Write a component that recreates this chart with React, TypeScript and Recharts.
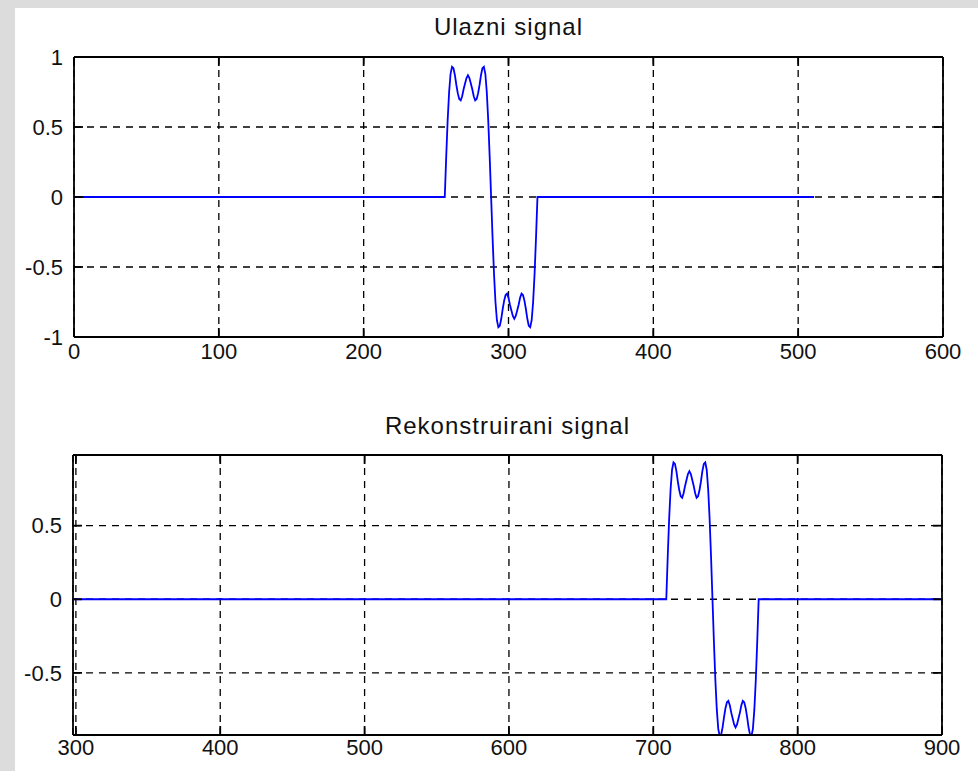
import React from 'react';
import { LineChart, Line, XAxis, YAxis, CartesianGrid } from 'recharts';

// one period of the band-limited square pulse (sample by sample)
const PULSE = [
  0, 0.29, 0.55, 0.75, 0.88, 0.93, 0.92, 0.87, 0.8, 0.74, 0.7, 0.69, 0.72, 0.77, 0.81, 0.85, 0.87,
  0.85, 0.81, 0.77, 0.72, 0.69, 0.7, 0.74, 0.8, 0.87, 0.92, 0.93, 0.88, 0.75, 0.55, 0.29, 0,
  -0.29, -0.55, -0.75, -0.88, -0.93, -0.92, -0.87, -0.8, -0.74, -0.7, -0.69, -0.72, -0.77, -0.81, -0.85, -0.87,
  -0.85, -0.81, -0.77, -0.72, -0.69, -0.7, -0.74, -0.8, -0.87, -0.92, -0.93, -0.88, -0.75, -0.55, -0.29, 0,
];

const INPUT_FIRST = 0;
const INPUT_START = 256;
const INPUT_LAST = 511;
const OUTPUT_FIRST = 298;
const OUTPUT_START = 709;
const OUTPUT_LAST = 900;

const TOP_X_DOMAIN = [0, 600];
const TOP_Y_DOMAIN = [-1, 1];
const TOP_X_TICKS = [0, 100, 200, 300, 400, 500, 600];
const TOP_Y_TICKS = [-1, -0.5, 0, 0.5, 1];

const BOTTOM_X_DOMAIN = [298, 900];
const BOTTOM_Y_DOMAIN = [-0.922, 0.98];
const BOTTOM_X_TICKS = [300, 400, 500, 600, 700, 800, 900];
const BOTTOM_Y_TICKS = [-0.5, 0, 0.5];

const buildSeries = (first: number, start: number, last: number) => [
  { x: first, y: 0 },
  ...PULSE.map((y, i) => ({ x: start + i, y })),
  { x: last, y: 0 },
];

const inputData = buildSeries(INPUT_FIRST, INPUT_START, INPUT_LAST);
const outputData = buildSeries(OUTPUT_FIRST, OUTPUT_START, OUTPUT_LAST);

const FONT = '"Liberation Sans", Arial, sans-serif';
const TICK = { fontSize: 22, fill: '#111', fontFamily: FONT };
const AXIS = { stroke: '#000', strokeWidth: 1.8 };
const NoLabel = () => <g />;

interface PanelProps {
  title: string;
  data: { x: number; y: number }[];
  xDomain: number[];
  yDomain: number[];
  xTicks: number[];
  yTicks: number[];
  top: number;
  height: number;
  margin: { top: number; right: number; bottom: number; left: number };
  titleTop: number;
  xLabelGap: number;
}

const Panel: React.FC<PanelProps> = ({ title, data, xDomain, yDomain, xTicks, yTicks, top, height, margin, titleTop, xLabelGap }) => (
  <div style={{ position: 'absolute', left: 0, top, width: 978, height }}>
    <LineChart width={978} height={height} data={data} margin={margin}>
      <CartesianGrid xAxisId="b" yAxisId="l" stroke="#000" strokeWidth={1.3} strokeDasharray="7 6" />
      <XAxis
        xAxisId="b"
        type="number"
        dataKey="x"
        domain={xDomain}
        ticks={xTicks}
        interval={0}
        allowDataOverflow
        height={30}
        tickSize={-9}
        tickMargin={9 + xLabelGap}
        axisLine={AXIS}
        tickLine={AXIS}
        tick={TICK}
      />
      <XAxis
        xAxisId="t"
        orientation="top"
        type="number"
        dataKey="x"
        domain={xDomain}
        ticks={xTicks}
        interval={0}
        allowDataOverflow
        height={1}
        tickSize={-9}
        axisLine={AXIS}
        tickLine={AXIS}
        tick={<NoLabel />}
      />
      <YAxis
        yAxisId="l"
        type="number"
        domain={yDomain}
        ticks={yTicks}
        interval={0}
        allowDataOverflow
        width={60}
        tickSize={-9}
        tickMargin={20}
        axisLine={AXIS}
        tickLine={AXIS}
        tick={TICK}
        tickFormatter={(v: number) => String(v)}
      />
      <YAxis
        yAxisId="r"
        orientation="right"
        type="number"
        domain={yDomain}
        ticks={yTicks}
        interval={0}
        allowDataOverflow
        width={1}
        tickSize={-9}
        axisLine={AXIS}
        tickLine={AXIS}
        tick={<NoLabel />}
      />
      <Line
        xAxisId="b"
        yAxisId="l"
        type="linear"
        dataKey="y"
        stroke="#0000ff"
        strokeWidth={1.8}
        dot={false}
        isAnimationActive={false}
      />
    </LineChart>
    <div
      style={{
        position: 'absolute',
        left: margin.left + 60,
        width: 978 - margin.left - margin.right - 61,
        top: titleTop,
        textAlign: 'center',
        fontFamily: FONT,
        fontSize: 24,
        letterSpacing: 1,
        lineHeight: '24px',
        color: '#111',
      }}
    >
      {title}
    </div>
  </div>
);

export default function App() {
  return (
    <div style={{ position: 'absolute', left: 0, top: 0, width: 978, height: 771, background: '#dcdcdc', overflow: 'hidden' }}>
      <div style={{ position: 'absolute', left: 15, top: 8, width: 963, height: 763, background: '#fff' }} />
      <Panel
        title="Ulazni signal"
        data={inputData}
        xDomain={TOP_X_DOMAIN}
        yDomain={TOP_Y_DOMAIN}
        xTicks={TOP_X_TICKS}
        yTicks={TOP_Y_TICKS}
        top={0}
        height={385}
        margin={{ top: 56, right: 34, bottom: 18, left: 14 }}
        titleTop={15}
        xLabelGap={6}
      />
      <Panel
        title="Rekonstruirani signal"
        data={outputData}
        xDomain={BOTTOM_X_DOMAIN}
        yDomain={BOTTOM_Y_DOMAIN}
        xTicks={BOTTOM_X_TICKS}
        yTicks={BOTTOM_Y_TICKS}
        top={385}
        height={386}
        margin={{ top: 69, right: 35, bottom: 6, left: 13 }}
        titleTop={29}
        xLabelGap={4}
      />
    </div>
  );
}
